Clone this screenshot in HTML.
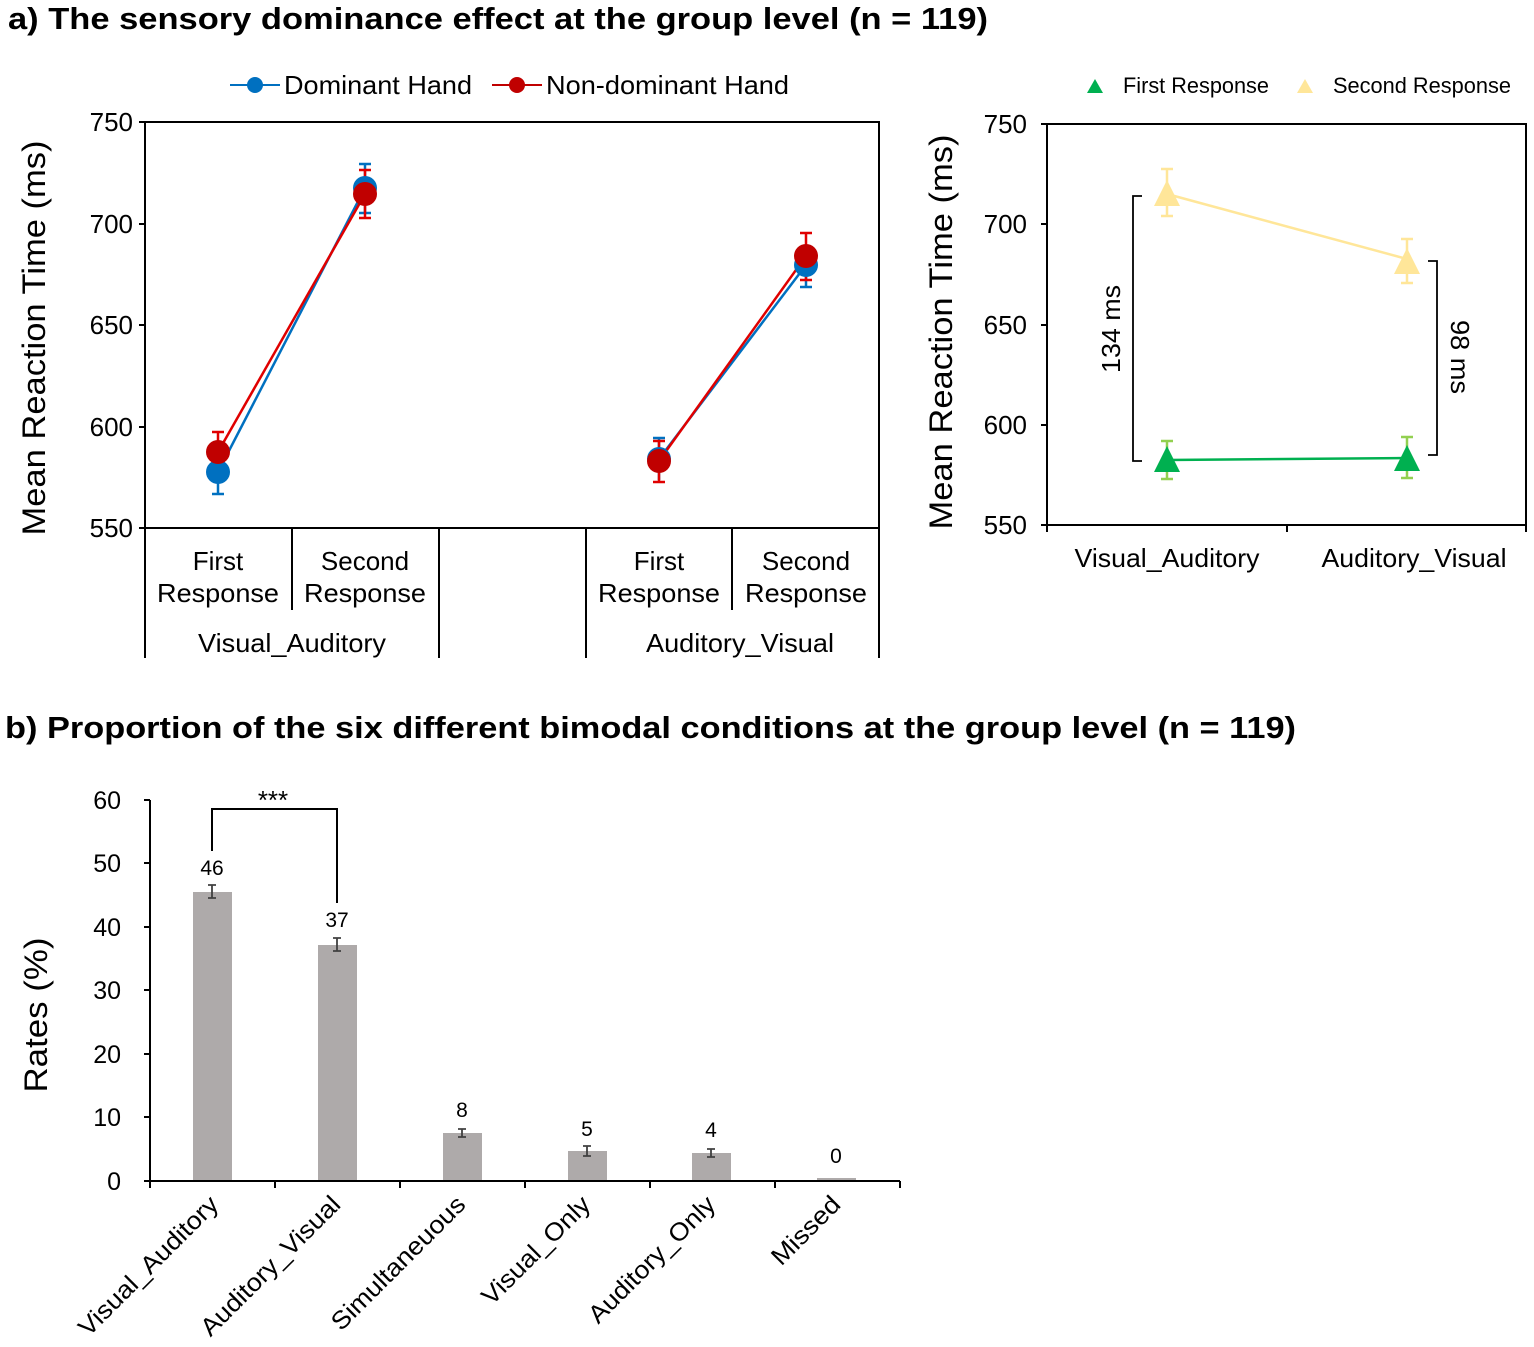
<!DOCTYPE html>
<html><head><meta charset="utf-8"><style>body{margin:0;background:#fff}svg{display:block}text{font-family:"Liberation Sans",sans-serif}</style></head>
<body>
<svg width="1534" height="1347" viewBox="0 0 1534 1347" xmlns="http://www.w3.org/2000/svg">
<text x="8" y="29" font-size="31" font-weight="bold" textLength="980" lengthAdjust="spacingAndGlyphs">a) The sensory dominance effect at the group level (n = 119)</text>
<text x="5" y="738" font-size="31" font-weight="bold" textLength="1291" lengthAdjust="spacingAndGlyphs">b) Proportion of the six different bimodal conditions at the group level (n = 119)</text>

<line x1="230" y1="85" x2="280" y2="85" stroke="#0070c0" stroke-width="2"/><circle cx="255" cy="85" r="8" fill="#0070c0"/>
<text x="284" y="94" font-size="26" textLength="188" lengthAdjust="spacingAndGlyphs">Dominant Hand</text>
<line x1="492" y1="85" x2="542" y2="85" stroke="#c00000" stroke-width="2"/><circle cx="517" cy="85" r="8" fill="#c00000"/>
<text x="546" y="94" font-size="26" textLength="243" lengthAdjust="spacingAndGlyphs">Non-dominant Hand</text>

<g stroke="#000" stroke-width="2" fill="none">
<rect x="145" y="122" width="734" height="406"/>
<line x1="139" y1="122" x2="145" y2="122"/><line x1="139" y1="224" x2="145" y2="224"/><line x1="139" y1="325" x2="145" y2="325"/><line x1="139" y1="427" x2="145" y2="427"/><line x1="139" y1="528" x2="145" y2="528"/>
<line x1="145" y1="528" x2="145" y2="658"/><line x1="292" y1="528" x2="292" y2="610"/><line x1="439" y1="528" x2="439" y2="658"/><line x1="586" y1="528" x2="586" y2="658"/><line x1="732" y1="528" x2="732" y2="610"/><line x1="879" y1="528" x2="879" y2="658"/>
</g>
<g font-size="26" text-anchor="end"><text x="133" y="131">750</text><text x="133" y="233">700</text><text x="133" y="334">650</text><text x="133" y="436">600</text><text x="133" y="537">550</text></g>
<text transform="translate(45,338) rotate(-90)" font-size="32" text-anchor="middle" textLength="395" lengthAdjust="spacingAndGlyphs">Mean Reaction Time (ms)</text>
<g font-size="26" text-anchor="middle">
<text x="218" y="570">First</text><text x="218" y="602" textLength="122" lengthAdjust="spacingAndGlyphs">Response</text>
<text x="365" y="570">Second</text><text x="365" y="602" textLength="122" lengthAdjust="spacingAndGlyphs">Response</text>
<text x="659" y="570">First</text><text x="659" y="602" textLength="122" lengthAdjust="spacingAndGlyphs">Response</text>
<text x="806" y="570">Second</text><text x="806" y="602" textLength="122" lengthAdjust="spacingAndGlyphs">Response</text>
<text x="292" y="652" textLength="188" lengthAdjust="spacingAndGlyphs">Visual_Auditory</text><text x="740" y="652" textLength="188" lengthAdjust="spacingAndGlyphs">Auditory_Visual</text>
</g>
<g stroke="#0070c0" stroke-width="2.5" fill="none">
<line x1="218" y1="472" x2="365" y2="188"/><line x1="659" y1="459" x2="806" y2="265"/>
<path d="M218 462V494M212 494H224M365 164V213M359 164H371M359 213H371M659 438V480M653 438H665M806 251V287M800 251H812M800 287H812"/>
</g>
<g stroke="#e00000" stroke-width="2.5" fill="none">
<line x1="218" y1="452" x2="365" y2="194"/><line x1="659" y1="461" x2="806" y2="256"/>
<path d="M218 432V460M212 432H224M365 170V218M359 170H371M359 218H371M659 441V482M653 441H665M653 482H665M806 233V280M800 233H812M800 280H812"/>
</g>
<g fill="#0070c0"><ellipse cx="218" cy="472" rx="12" ry="12"/><ellipse cx="365" cy="188" rx="12" ry="12"/><ellipse cx="659" cy="459" rx="12" ry="12"/><ellipse cx="806" cy="265" rx="12" ry="12"/></g>
<g fill="#c00000"><ellipse cx="218" cy="452" rx="12" ry="12"/><ellipse cx="365" cy="194" rx="12" ry="12"/><ellipse cx="659" cy="461" rx="12" ry="12"/><ellipse cx="806" cy="256" rx="12" ry="12"/></g>

<polygon points="1087,93 1103,93 1095,79" fill="#00b050"/><text x="1123" y="93" font-size="22" textLength="146" lengthAdjust="spacingAndGlyphs">First Response</text>
<polygon points="1297,93 1313,93 1305,79" fill="#ffe699"/><text x="1333" y="93" font-size="22" textLength="178" lengthAdjust="spacingAndGlyphs">Second Response</text>
<g stroke="#000" stroke-width="2" fill="none">
<rect x="1047" y="124" width="479" height="401"/>
<line x1="1041" y1="124" x2="1047" y2="124"/><line x1="1041" y1="224" x2="1047" y2="224"/><line x1="1041" y1="325" x2="1047" y2="325"/><line x1="1041" y1="425" x2="1047" y2="425"/><line x1="1041" y1="525" x2="1047" y2="525"/>
<line x1="1287" y1="525" x2="1287" y2="532"/><line x1="1047" y1="525" x2="1047" y2="532"/><line x1="1526" y1="525" x2="1526" y2="532"/>
</g>
<g font-size="26" text-anchor="end"><text x="1027" y="133">750</text><text x="1027" y="233">700</text><text x="1027" y="334">650</text><text x="1027" y="434">600</text><text x="1027" y="534">550</text></g>
<text transform="translate(952,332) rotate(-90)" font-size="32" text-anchor="middle" textLength="395" lengthAdjust="spacingAndGlyphs">Mean Reaction Time (ms)</text>
<g font-size="26" text-anchor="middle"><text x="1167" y="567" textLength="185" lengthAdjust="spacingAndGlyphs">Visual_Auditory</text><text x="1414" y="567" textLength="185" lengthAdjust="spacingAndGlyphs">Auditory_Visual</text></g>
<line x1="1167" y1="194" x2="1407" y2="259" stroke="#ffe699" stroke-width="2.5"/>
<line x1="1167" y1="460" x2="1407" y2="458" stroke="#00b050" stroke-width="2.5"/>
<g stroke="#ffe699" stroke-width="2.5" fill="none"><path d="M1167 169V216M1161 169H1173M1161 216H1173M1407 239V283M1401 239H1413M1401 283H1413"/></g>
<g stroke="#92d050" stroke-width="2.5" fill="none"><path d="M1167 441V479M1161 441H1173M1161 479H1173M1407 437V478M1401 437H1413M1401 478H1413"/></g>
<polygon points="1154,206 1180,206 1167,180" fill="#ffe699"/><polygon points="1394,274 1420,274 1407,248" fill="#ffe699"/>
<polygon points="1154,472 1180,472 1167,446" fill="#00b050"/><polygon points="1394,471 1420,471 1407,445" fill="#00b050"/>
<g stroke="#000" stroke-width="1.8" fill="none"><path d="M1142 196H1133V461H1142M1428 261H1437V455H1428"/></g>
<text transform="translate(1120,329) rotate(-90)" font-size="26" text-anchor="middle" textLength="88" lengthAdjust="spacingAndGlyphs">134 ms</text>
<text transform="translate(1451,357) rotate(90)" font-size="26" text-anchor="middle" textLength="74" lengthAdjust="spacingAndGlyphs">98 ms</text>

<g fill="#aeaaaa">
<rect x="193" y="892" width="39" height="289"/><rect x="318" y="945" width="39" height="236"/><rect x="443" y="1133" width="39" height="48"/><rect x="568" y="1151" width="39" height="30"/><rect x="692" y="1153" width="39" height="28"/><rect x="817" y="1178" width="39" height="3"/>
</g>
<g stroke="#404040" stroke-width="1.8" fill="none">
<path d="M212 885V898M208 885H216M208 898H216M337 938V951M333 938H341M333 951H341M462 1129V1137M458 1129H466M458 1137H466M587 1146V1156M583 1146H591M583 1156H591M711 1149V1157M707 1149H715M707 1157H715"/>
</g>
<g stroke="#000" stroke-width="2" fill="none">
<line x1="150" y1="800" x2="150" y2="1181"/><line x1="150" y1="1181" x2="900" y2="1181"/>
<path d="M144 800H150M144 863H150M144 927H150M144 990H150M144 1054H150M144 1117H150M144 1181H150"/>
<path d="M150 1181V1188M275 1181V1188M400 1181V1188M525 1181V1188M650 1181V1188M775 1181V1188M900 1181V1188"/>
<path d="M212 851V809H337V903"/>
</g>
<g font-size="25" text-anchor="end"><text x="121" y="809">60</text><text x="121" y="872">50</text><text x="121" y="936">40</text><text x="121" y="999">30</text><text x="121" y="1063">20</text><text x="121" y="1126">10</text><text x="121" y="1190">0</text></g>
<text transform="translate(47,1015) rotate(-90)" font-size="32" text-anchor="middle" textLength="155" lengthAdjust="spacingAndGlyphs">Rates (%)</text>
<g font-size="21" text-anchor="middle"><text x="212" y="875">46</text><text x="337" y="927">37</text><text x="462" y="1117">8</text><text x="587" y="1136">5</text><text x="711" y="1137">4</text><text x="836" y="1163">0</text></g>
<text x="273" y="809" font-size="26" text-anchor="middle">***</text>
<g font-size="25" text-anchor="end">
<text transform="translate(220,1206) rotate(-45)" textLength="186" lengthAdjust="spacingAndGlyphs">Visual_Auditory</text>
<text transform="translate(342,1206) rotate(-45)" textLength="186" lengthAdjust="spacingAndGlyphs">Auditory_Visual</text>
<text transform="translate(467,1206) rotate(-45)" textLength="178" lengthAdjust="spacingAndGlyphs">Simultaneuous</text>
<text transform="translate(592,1206) rotate(-45)" textLength="142" lengthAdjust="spacingAndGlyphs">Visual_Only</text>
<text transform="translate(717,1206) rotate(-45)" textLength="168" lengthAdjust="spacingAndGlyphs">Auditory_Only</text>
<text transform="translate(842,1206) rotate(-45)" textLength="86" lengthAdjust="spacingAndGlyphs">Missed</text>
</g>
</svg>
</body></html>
